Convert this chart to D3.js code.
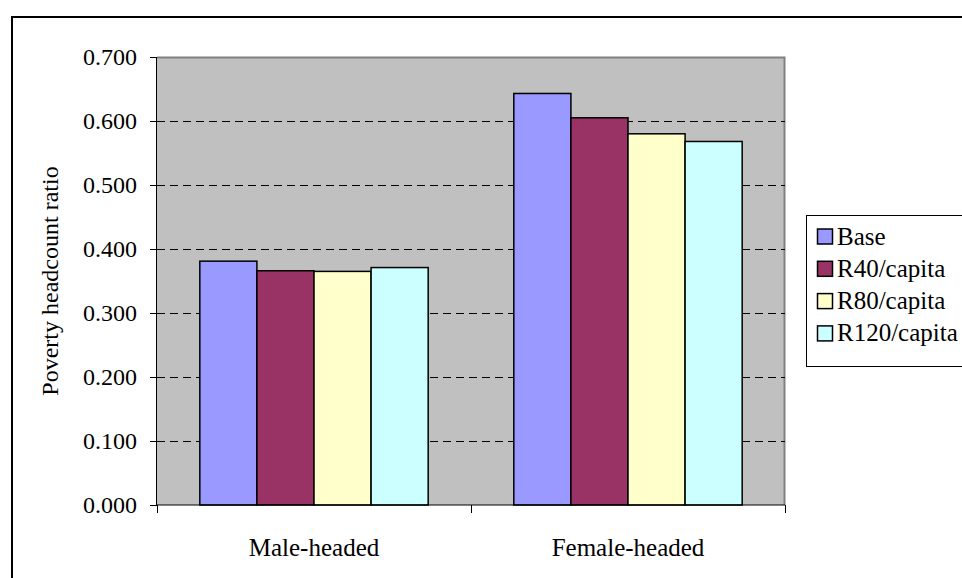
<!DOCTYPE html>
<html><head><meta charset="utf-8">
<script src="https://cdn.jsdelivr.net/npm/d3@7"></script>
<style>body{margin:0;background:#fff}svg{display:block}</style>
</head><body>
<script>
const categories = ["Male-headed", "Female-headed"];
const seriesNames = ["Base", "R40/capita", "R80/capita", "R120/capita"];
const base = [0.381, 0.643];
const r40 = [0.366, 0.605];
const r80 = [0.365, 0.580];
const r120 = [0.371, 0.568];
const yTicks = [0, 0.1, 0.2, 0.3, 0.4, 0.5, 0.6, 0.7];
const colors = ["#9999FF", "#993366", "#FFFFCC", "#CCFFFF"];

const FONT = '"Liberation Serif", "Times New Roman", "DejaVu Serif", serif';
const seriesValues = [base, r40, r80, r120];
const W = 962, H = 578;
const svg = d3.select("body").append("svg").attr("width", W).attr("height", H)
  .attr("font-family", FONT);

// outer chart border
svg.append("rect").attr("x", 12).attr("y", 17).attr("width", W).attr("height", H)
  .attr("fill", "#fff").attr("stroke", "#000").attr("stroke-width", 2);

const L = 157, R = 785, T = 57, B = 505;
const x = d3.scaleBand().domain(categories).range([L, R]).paddingInner(0).paddingOuter(0);
const y = d3.scaleLinear().domain([0, 0.7]).range([B, T]);

svg.append("rect").attr("x", L).attr("y", T).attr("width", R - L).attr("height", B - T)
  .attr("fill", "#C0C0C0");
svg.append("path").attr("d", `M${L},${T + 0.5}H${R - 0.5}V${B}`)
  .attr("fill", "none").attr("stroke", "#808080").attr("stroke-width", 2);

// gridlines
svg.append("g").selectAll("line").data(yTicks.filter(d => d > 0 && d < 0.7)).join("line")
  .attr("x1", L).attr("x2", R).attr("y1", d => Math.round(y(d)) + 0.5).attr("y2", d => Math.round(y(d)) + 0.5)
  .attr("stroke", "#000").attr("stroke-dasharray", "8,5");

// bars
const bw = x.bandwidth() / 5.5;
const x1 = d3.scaleBand().domain(seriesNames).range([0, bw * 4]);
categories.forEach((c, ci) => {
  const g0 = x(c) + (x.bandwidth() - bw * 4) / 2;
  seriesNames.forEach((s, si) => {
    const v = seriesValues[si][ci];
    svg.append("rect")
      .attr("x", g0 + x1(s)).attr("y", y(v))
      .attr("width", x1.bandwidth()).attr("height", y(0) - y(v))
      .attr("fill", colors[si]).attr("stroke", "#000").attr("stroke-width", 1.5);
  });
});

// y axis
const yAxis = svg.append("g").attr("transform", `translate(${L},0)`)
  .call(d3.axisLeft(y).tickValues(yTicks).tickFormat(d3.format(".3f")).tickSize(7).tickPadding(13));
yAxis.attr("font-family", FONT).attr("font-size", 24);
yAxis.select(".domain").attr("d", `M-0.5,${T}V${B}`).attr("stroke", "#000");
yAxis.selectAll(".tick line").attr("stroke", "#000");
yAxis.selectAll("text").attr("fill", "#000");

// x axis
const xAxis = svg.append("g").attr("transform", `translate(0,${B})`);
xAxis.append("line").attr("x1", L).attr("x2", R).attr("y1", 0).attr("y2", 0).attr("stroke", "#000");
xAxis.selectAll("line.t").data([L, ...categories.map(c => x(c) + x.bandwidth())]).join("line")
  .attr("class", "t").attr("x1", d => Math.round(d) + 0.5).attr("x2", d => Math.round(d) + 0.5)
  .attr("y1", 0).attr("y2", 8).attr("stroke", "#000");
xAxis.selectAll("text").data(categories).join("text")
  .attr("x", d => x(d) + x.bandwidth() / 2).attr("y", 51)
  .attr("text-anchor", "middle").attr("font-size", 25).attr("fill", "#000").text(d => d);

// y title
svg.append("text").attr("transform", `translate(58,${(T + B) / 2}) rotate(-90)`)
  .attr("text-anchor", "middle").attr("font-size", 24).attr("fill", "#000").text("Poverty headcount ratio");

// legend
const lg = svg.append("g");
lg.append("rect").attr("x", 806.5).attr("y", 215.5).attr("width", 170).attr("height", 151)
  .attr("fill", "#fff").attr("stroke", "#000");
seriesNames.forEach((s, i) => {
  const cy = 236 + i * 32.3;
  lg.append("rect").attr("x", 817.5).attr("y", cy - 7).attr("width", 15).attr("height", 15)
    .attr("fill", colors[i]).attr("stroke", "#000").attr("stroke-width", 1.5);
  lg.append("text").attr("x", 837).attr("y", cy + 8.5).attr("font-size", 25).attr("fill", "#000").text(s);
});
</script>
</body></html>
